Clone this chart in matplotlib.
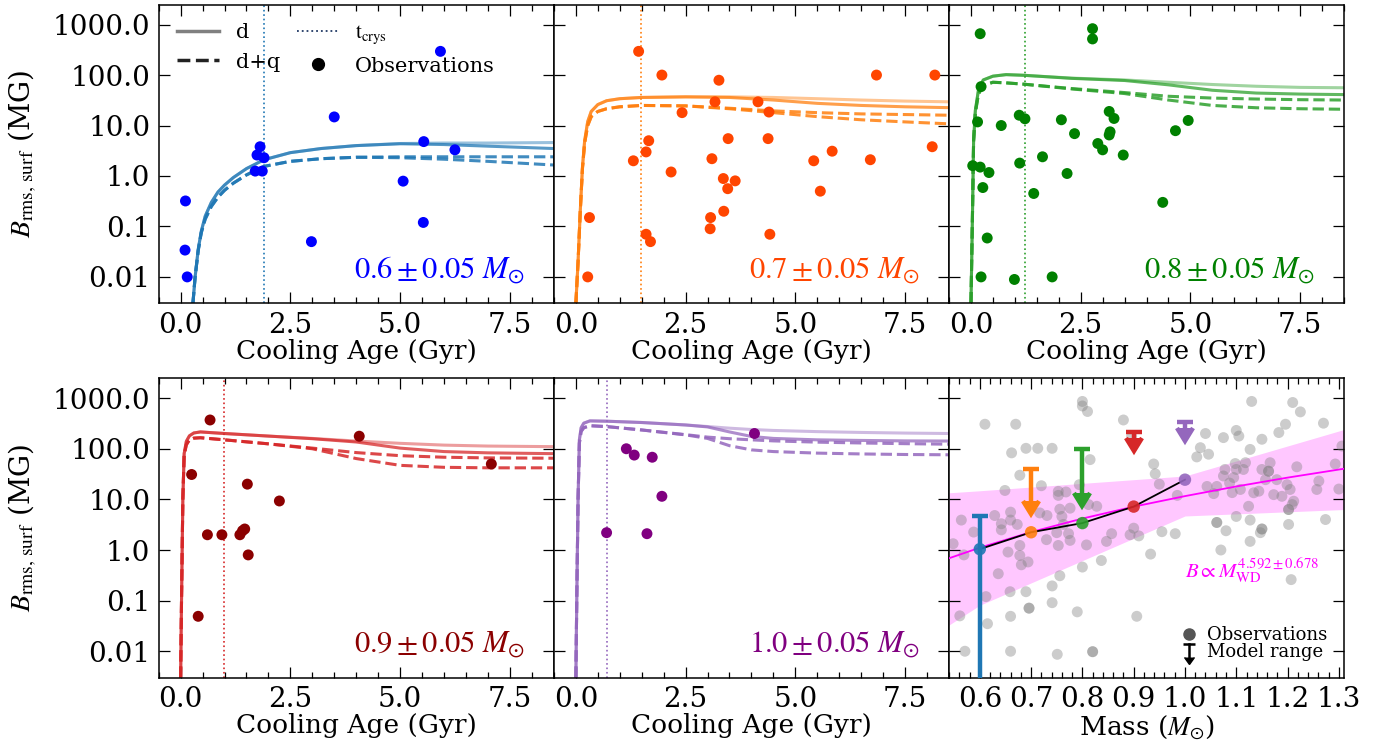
import numpy as np
import matplotlib
matplotlib.use('Agg')
import matplotlib.pyplot as plt
import matplotlib.lines as mlines
from matplotlib.lines import Line2D
from matplotlib.legend_handler import HandlerBase
from matplotlib.ticker import FixedLocator, FixedFormatter, NullLocator, NullFormatter, MultipleLocator

plt.rcParams['font.family'] = ['DejaVu Serif']
plt.rcParams['mathtext.fontset'] = 'stix'

# ---------------- data ----------------
mass_labels = ['0.6', '0.7', '0.8', '0.9', '1.0']
model_colors = ['#1f77b4', '#ff7f0e', '#2ca02c', '#d62728', '#9467bd']
obs_colors = ['blue', 'orangered', 'green', 'darkred', 'purple']
t_crys = [1.91, 1.48, 1.22, 0.98, 0.72]

y_ticks = [0.01, 0.1, 1.0, 10.0, 100.0, 1000.0]
y_ticklabels = ['0.01', '0.1', '1.0', '10.0', '100.0', '1000.0']
age_ticks = [0.0, 2.5, 5.0, 7.5]
age_ticklabels = ['0.0', '2.5', '5.0', '7.5']
mass_ticks = [0.6, 0.7, 0.8, 0.9, 1.0, 1.1, 1.2, 1.3]
mass_ticklabels = ['0.6', '0.7', '0.8', '0.9', '1.0', '1.1', '1.2', '1.3']

# model curves (cooling age in Gyr, B in MG)
t_06 = [0.28, 0.33, 0.40, 0.47, 0.56, 0.70, 0.85, 1.0, 1.2, 1.5, 1.9, 2.5, 3.2, 4.0, 5.0, 6.0, 7.0, 8.5]
d_a_06 = [0.003, 0.01, 0.035, 0.08, 0.16, 0.3, 0.48, 0.66, 0.93, 1.4, 2.1, 2.9, 3.5, 4.0, 4.4, 4.5, 4.5, 4.6]
d_b_06 = [0.003, 0.01, 0.035, 0.08, 0.16, 0.3, 0.48, 0.66, 0.93, 1.4, 2.1, 2.9, 3.5, 4.0, 4.35, 4.2, 3.9, 3.5]
dq_a_06 = [0.003, 0.01, 0.033, 0.075, 0.14, 0.25, 0.38, 0.52, 0.72, 1.05, 1.55, 1.95, 2.2, 2.35, 2.4, 2.4, 2.4, 2.4]
dq_b_06 = [0.003, 0.01, 0.033, 0.075, 0.14, 0.25, 0.38, 0.52, 0.72, 1.05, 1.55, 1.95, 2.2, 2.35, 2.3, 2.15, 1.95, 1.65]

t_07 = [0.0, 0.05, 0.1, 0.15, 0.2, 0.27, 0.35, 0.5, 0.7, 1.0, 1.5, 2.5, 3.5, 4.5, 5.5, 6.5, 7.5, 8.5]
d_a_07 = [0.003, 0.02, 0.2, 1.5, 5, 12, 19, 26, 31, 34, 36, 37, 37, 36, 34, 32, 30.5, 29.5]
d_b_07 = [0.003, 0.02, 0.2, 1.5, 5, 12, 19, 26, 31, 34, 36, 37, 36, 32, 27.5, 25, 23.5, 22.6]
dq_a_07 = [0.003, 0.02, 0.2, 1.4, 4.5, 10, 15, 19, 21.5, 23.5, 25, 24.5, 22, 19.5, 18, 17, 16.5, 16]
dq_b_07 = [0.003, 0.02, 0.2, 1.4, 4.5, 10, 15, 19, 21.5, 23.5, 25, 24.5, 21.5, 18, 15, 13, 11.8, 10.8]

t_08 = [0.0, 0.03, 0.06, 0.1, 0.17, 0.28, 0.5, 0.8, 1.2, 2.3, 3.5, 4.5, 5.5, 6.5, 7.5, 8.5]
d_a_08 = [0.003, 0.1, 5, 20, 50, 80, 95, 102, 99, 87, 80, 72, 65, 60, 57, 56]
d_b_08 = [0.003, 0.1, 5, 20, 50, 80, 95, 102, 99, 86, 78, 64, 50, 44, 42, 41]
dq_a_08 = [0.003, 0.1, 5, 18, 42, 62, 72, 70, 66, 54, 45, 38, 35, 33.5, 32.5, 32]
dq_b_08 = [0.003, 0.1, 5, 18, 42, 62, 72, 70, 66, 53, 43, 32, 25, 22.5, 21.5, 21]

t_09 = [0.0, 0.02, 0.05, 0.08, 0.13, 0.2, 0.3, 0.45, 1.0, 2.0, 3.0, 4.0, 5.0, 6.0, 7.0, 8.5]
d_a_09 = [0.003, 0.1, 10, 80, 140, 180, 205, 215, 200, 178, 160, 142, 128, 118, 113, 110]
d_b_09 = [0.003, 0.1, 10, 80, 140, 180, 205, 215, 200, 178, 158, 136, 103, 88, 83, 80]
dq_a_09 = [0.003, 0.1, 10, 75, 120, 150, 162, 165, 150, 125, 103, 84, 73, 68, 66, 65]
dq_b_09 = [0.003, 0.1, 10, 75, 120, 150, 162, 165, 150, 125, 100, 64, 47, 43, 42, 42]

t_10 = [0.0, 0.02, 0.05, 0.08, 0.12, 0.18, 0.32, 0.7, 1.5, 2.5, 3.0, 3.5, 4.0, 4.5, 5.5, 6.5, 7.5, 8.5]
d_a_10 = [0.003, 0.1, 10, 150, 260, 320, 355, 350, 330, 295, 275, 255, 240, 230, 218, 210, 204, 200]
d_b_10 = [0.003, 0.1, 10, 150, 260, 320, 355, 350, 330, 295, 270, 215, 175, 160, 150, 146, 143, 142]
dq_a_10 = [0.003, 0.1, 10, 130, 220, 260, 285, 274, 235, 190, 170, 158, 150, 143, 135, 130, 126, 123]
dq_b_10 = [0.003, 0.1, 10, 130, 220, 260, 285, 274, 235, 188, 160, 115, 95, 88, 82, 79, 77, 76]

curves = [
    (t_06, d_a_06, d_b_06, dq_a_06, dq_b_06),
    (t_07, d_a_07, d_b_07, dq_a_07, dq_b_07),
    (t_08, d_a_08, d_b_08, dq_a_08, dq_b_08),
    (t_09, d_a_09, d_b_09, dq_a_09, dq_b_09),
    (t_10, d_a_10, d_b_10, dq_a_10, dq_b_10),
]

# observations per mass bin (cooling age Gyr, B MG)
obs_t_06 = [0.11, 0.10, 0.15, 1.70, 1.74, 1.81, 1.86, 1.90, 2.98, 3.50, 5.07, 5.54, 5.53, 5.92, 6.25]
obs_B_06 = [0.32, 0.034, 0.01, 1.25, 2.6, 3.8, 1.25, 2.3, 0.05, 14.8, 0.79, 4.8, 0.12, 295, 3.3]

obs_t_07 = [0.27, 0.31, 1.43, 1.31, 1.60, 1.66, 1.60, 1.70, 1.96, 2.17, 2.42, 3.06, 3.07, 3.10, 3.17, 3.26,
            3.36, 3.37, 3.46, 3.47, 3.63, 4.15, 4.38, 4.40, 4.42, 5.42, 5.57, 5.84, 6.71, 6.85, 8.12, 8.18]
obs_B_07 = [0.01, 0.15, 295, 2.0, 3.0, 5.0, 0.07, 0.05, 100, 1.2, 18, 0.09, 0.15, 2.2, 29.5, 79,
            0.89, 0.2, 0.56, 5.5, 0.8, 29.5, 5.5, 18.5, 0.07, 2.0, 0.5, 3.1, 2.1, 100, 3.8, 100]

obs_t_08 = [0.21, 0.23, 0.15, 0.04, 0.21, 0.41, 0.27, 0.37, 0.23, 0.69, 1.10, 1.23, 1.11, 0.99, 1.43, 1.63,
            1.85, 2.06, 2.19, 2.36, 2.77, 2.77, 2.89, 3.00, 3.15, 3.15, 3.17, 3.26, 3.47, 4.37, 4.66, 4.95]
obs_B_08 = [660, 59, 11.8, 1.6, 1.5, 1.17, 0.59, 0.059, 0.01, 10, 16, 13.6, 1.8, 0.0089, 0.45, 2.4,
            0.01, 13, 1.12, 6.9, 830, 520, 4.4, 3.3, 19, 6.5, 7.5, 13.8, 2.6, 0.30, 7.9, 12.6]

obs_t_09 = [0.25, 0.67, 0.40, 0.61, 0.94, 1.35, 1.41, 1.46, 1.52, 1.54, 2.25, 4.07, 7.08]
obs_B_09 = [31, 370, 0.049, 2.0, 2.0, 2.0, 2.4, 2.6, 20, 0.8, 9.3, 177, 50]

obs_t_10 = [0.70, 1.15, 1.33, 1.74, 1.62, 1.96, 4.07]
obs_B_10 = [2.2, 100, 75, 68, 2.1, 11.5, 200]

obs_t = [obs_t_06, obs_t_07, obs_t_08, obs_t_09, obs_t_10]
obs_B = [obs_B_06, obs_B_07, obs_B_08, obs_B_09, obs_B_10]

# mass panel: all observations
all_mass = [0.80, 0.80, 0.81, 0.61, 0.67, 0.88, 1.13, 1.21, 1.225, 1.27, 1.10, 1.105, 1.075, 1.04, 1.15,
            1.183, 1.196, 1.03, 1.023, 1.046, 1.127, 0.662, 0.69, 0.713, 0.741, 0.815, 0.939, 0.942, 0.678,
            1.306, 0.896,
            0.548, 0.564, 0.569, 0.588, 0.612, 0.615, 0.561, 0.629, 0.642, 0.642, 0.649, 0.655, 0.66, 0.66,
            0.673, 0.678, 0.678, 0.681, 0.694, 0.636, 0.659, 0.66, 0.69, 0.696, 0.696, 0.72, 0.717, 0.731,
            0.73, 0.753, 0.753, 0.756, 0.76, 0.763, 0.768, 0.75, 0.753, 0.773, 0.776, 0.776, 0.794, 0.812,
            0.828, 0.808, 0.80, 0.837, 0.847, 0.857, 0.756, 0.741, 0.741, 0.79, 0.751, 0.82, 0.82, 0.66,
            0.571, 0.893, 0.90, 0.91, 0.933, 0.906, 0.95, 0.955, 0.981, 0.985, 1.062, 1.062, 1.07, 1.08,
            1.10, 1.127, 1.127, 1.147, 1.15, 1.15, 1.202, 1.207, 1.274,
            1.056, 1.075, 1.078, 1.087, 1.092, 1.095, 1.098, 1.10, 1.108, 1.114, 1.118, 1.124, 1.134, 1.144,
            1.15, 1.157, 1.163, 1.163, 1.166, 1.173, 1.179, 1.189, 1.199, 1.202, 1.202, 1.205, 1.209, 1.212,
            1.218, 1.257, 1.261, 1.293, 1.30, 1.043, 1.062]
all_B = [860, 700, 545, 305, 305, 370, 860, 820, 535, 320, 230, 178, 166, 200, 154,
         209, 305, 105, 69, 78, 97, 83, 102, 102, 102, 61, 50, 32, 30,
         113, 178,
         1.33, 3.9, 0.80, 2.26, 0.12, 0.035, 0.050, 4.8, 3.3, 2.5, 15, 0.91, 5.6, 3.9,
         3.2, 1.23, 0.78, 0.51, 0.58, 0.34, 0.15, 0.049, 0.15, 0.071, 0.071, 18.6, 5.4, 4.8,
         1.6, 14.4, 12, 6.4, 4.6, 3.2, 14, 2.2, 1.23, 2.1, 1.55, 6.7, 19.5, 7.9,
         7.3, 1.26, 0.46, 0.62, 1.48, 2.1, 0.31, 0.195, 0.091, 0.06, 0.0087, 0.0098, 0.0098, 0.01,
         0.01, 2.0, 2.7, 1.9, 0.83, 0.049, 20, 2.3, 2.1, 12, 3.5, 3.5, 1.0, 2.4,
         4.6, 3.9, 1.48, 2.2, 2.6, 2.6, 3.2, 0.26, 4.0,
         13, 29, 39, 21, 13.6, 27, 51, 39, 15.7, 39, 53, 7.3, 13.5, 14.5,
         39, 24.5, 36, 36, 53, 12.4, 24.5, 11.5, 19.5, 6.3, 6.3, 15.7, 7.9, 9.2,
         44, 15.7, 23, 50, 16, 18, 18]

model_mass = [0.6, 0.7, 0.8, 0.9, 1.0]
model_B = [1.04, 2.24, 3.4, 7.2, 24.5]
range_top = [4.7, 39, 100, 215, 345]
range_low = [0.001, 9.1, 13.5, 166, 262]

fit_mass = [0.54, 0.6, 0.7, 0.8, 0.9, 1.0, 1.1, 1.2, 1.31]
fit_B = [0.687, 1.11, 2.26, 4.18, 7.18, 11.6, 18.0, 26.9, 40.3]

band_mass = [0.54, 0.6, 1.0, 1.31]
band_upper = [13.5, 14.8, 29, 240]
band_lower = [0.033, 0.081, 4.7, 6.3]

# ---------------- figure ----------------
fig = plt.figure(figsize=(13.8, 7.41), dpi=100)
lefts = [0.1150, 0.4014, 0.6877]
w = 0.2862
rows = [(0.5907, 0.4032), (0.0854, 0.4045)]
axes = []
for (b, h) in rows:
    for l in lefts:
        axes.append(fig.add_axes([l, b, w, h]))

TICK_FS = 20
LABEL_FS = 19


def style(ax, left_col):
    ax.set_yscale('log')
    ax.set_ylim(3e-3, 2.5e3)
    ax.yaxis.set_major_locator(FixedLocator(y_ticks))
    ax.yaxis.set_minor_locator(NullLocator())
    if left_col:
        ax.yaxis.set_major_formatter(FixedFormatter(y_ticklabels))
    else:
        ax.yaxis.set_major_formatter(NullFormatter())
    ax.tick_params(which='both', direction='in', top=True, right=True,
                   labelsize=TICK_FS, pad=6, width=0.9)
    ax.tick_params(which='major', length=8)
    ax.tick_params(which='minor', length=4)
    for s in ax.spines.values():
        s.set_linewidth(1.1)


for i in range(5):
    ax = axes[i]
    style(ax, i in (0, 3))
    t, da, db, dqa, dqb = curves[i]
    c = model_colors[i]
    ax.plot(t, da, color=c, lw=2.2, alpha=0.45, solid_capstyle='butt')
    ax.plot(t, db, color=c, lw=2.2, alpha=0.75, solid_capstyle='butt')
    ax.plot(t, dqa, color=c, lw=2.2, ls='--', alpha=0.85)
    ax.plot(t, dqb, color=c, lw=2.2, ls='--', alpha=0.85)
    ax.axvline(t_crys[i], color=c, ls=':', lw=1.2)
    ax.scatter(obs_t[i], obs_B[i], s=62, color=obs_colors[i], zorder=5, edgecolors='none')
    ax.set_xlim(-0.5, 8.5)
    ax.xaxis.set_major_locator(FixedLocator(age_ticks))
    ax.xaxis.set_major_formatter(FixedFormatter(age_ticklabels))
    ax.xaxis.set_minor_locator(MultipleLocator(0.5))
    ax.set_xlabel('Cooling Age (Gyr)', fontsize=LABEL_FS, labelpad=0)
    ax.text(0.927, 0.088, r'$%s\pm0.05\ M_{\odot}$' % mass_labels[i], transform=ax.transAxes,
            ha='right', va='baseline', fontsize=22, color=obs_colors[i])
    if i in (0, 3):
        ax.set_ylabel(r'$B_{\rm rms,\,surf}$ (MG)', fontsize=20)
        ax.yaxis.set_label_coords(-0.303, 0.5)

# legend panel 1
leg_handles = [
    Line2D([], [], color='gray', lw=2.5),
    Line2D([], [], color='#222222', lw=2.5, ls='--'),
    Line2D([], [], color='#203864', lw=1.3, ls=':'),
    Line2D([], [], color='k', marker='o', ms=8.5, ls='none'),
]
leg_labels = ['d', 'd+q', r'$\rm t_{crys}$', 'Observations']
axes[0].legend(leg_handles, leg_labels, loc='upper left', ncol=2, frameon=False,
               fontsize=15, columnspacing=0.8)

# mass panel
ax = axes[5]
style(ax, False)
ax.fill_between(band_mass, band_lower, band_upper, color='magenta', alpha=0.22, lw=0, zorder=1)
ax.scatter(all_mass, all_B, s=62, color='gray', alpha=0.4, edgecolors='none', zorder=2)
ax.plot(fit_mass, fit_B, color='magenta', lw=1.3, zorder=3)
ax.plot(model_mass, model_B, color='k', lw=1.3, zorder=4)
for i in range(5):
    ax.errorbar([model_mass[i]], [range_top[i]],
                yerr=[[range_top[i] - range_low[i]], [0]],
                uplims=True, color=model_colors[i], elinewidth=3.2, capsize=6, capthick=3.2,
                zorder=5)
    ax.scatter([model_mass[i]], [model_B[i]], s=80, color=model_colors[i], zorder=6,
               edgecolors='none', alpha=0.9)
ax.set_xlim(0.54, 1.31)
ax.xaxis.set_major_locator(FixedLocator(mass_ticks))
ax.xaxis.set_major_formatter(FixedFormatter(mass_ticklabels))
ax.xaxis.set_minor_locator(MultipleLocator(0.02))
ax.set_xlabel(r'Mass ($M_{\odot}$)', fontsize=LABEL_FS, labelpad=0)
ax.text(0.598, 0.333, r'$B\propto M_{\rm WD}^{4.592\pm0.678}$', transform=ax.transAxes,
        ha='left', va='baseline', fontsize=15, color='magenta')


class RangeHandler(HandlerBase):
    def create_artists(self, legend, orig_handle, xdescent, ydescent, width, height,
                       fontsize, trans):
        xc = 0.5 * width - xdescent
        top = 1.1 * height - ydescent
        bot = 0.05 * height - ydescent
        bar = Line2D([xc, xc], [bot, top], color='k', lw=1.8, transform=trans)
        cap = Line2D([xc], [top], marker='_', ms=8, mew=1.8, color='k', transform=trans)
        arr = Line2D([xc], [bot], marker=mlines.CARETDOWNBASE, ms=7, color='k',
                     transform=trans)
        return [bar, cap, arr]


obs_handle = Line2D([], [], color='#555555', marker='o', ms=8, ls='none')
range_handle = Line2D([], [], color='k')
ax.legend([obs_handle, range_handle], ['Observations', 'Model range'], loc='lower right',
          frameon=False, fontsize=13, handlelength=0.5, handletextpad=0.8,
          labelspacing=-0.05, handler_map={range_handle: RangeHandler()})

fig.savefig('out.png', dpi=100)
